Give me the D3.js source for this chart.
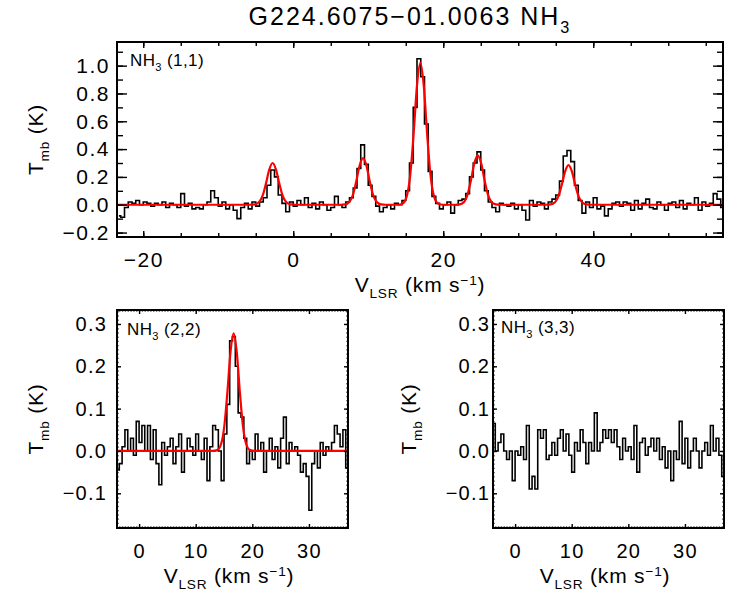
<!DOCTYPE html>
<html>
<head>
<meta charset="utf-8">
<script src="https://cdn.jsdelivr.net/npm/d3@7"></script>
<style>
  body { margin: 0; background: #fff; }
  svg { display: block; }
</style>
</head>
<body>
<svg id="chart"></svg>
<script>
const FONT = "'Liberation Sans', Arial, Helvetica, sans-serif";

// channel grid (km/s)
const CHAN_WIDTH = 0.5;
const V0_11 = -23.25;
const V0_22 = -3.75;
const V0_33 = -3.75;

// NH3 (1,1) spectrum, Tmb (K), one value per channel
const T11 = [
  -0.08, -0.09, -0.02, 0.02, 0.01, 0.03, 0.00, 0.02, 0.01, -0.01,
  0.01, 0.00, 0.02, -0.02, 0.01, 0.00, -0.02, 0.08, -0.01, 0.01,
  -0.03, -0.02, -0.03, 0.00, 0.02, 0.10, 0.05, -0.01, 0.02, -0.03,
  0.00, -0.04, -0.10, -0.02, 0.01, -0.03, 0.02, -0.01, 0.02, 0.05,
  0.14, 0.25, 0.20, 0.07, 0.01, -0.05, 0.02, -0.01, 0.03, 0.00,
  0.05, -0.02, 0.01, -0.03, 0.02, 0.00, -0.04, -0.02, 0.06, 0.00,
  -0.02, 0.02, 0.05, 0.12, 0.26, 0.43, 0.29, 0.14, 0.06, -0.01,
  -0.05, -0.02, 0.00, -0.03, 0.01, 0.00, 0.03, 0.10, 0.30, 0.70,
  1.05, 0.92, 0.58, 0.24, 0.06, 0.01, -0.03, 0.00, 0.02, -0.06,
  0.00, 0.03, 0.04, 0.08, 0.20, 0.30, 0.38, 0.25, 0.10, 0.02,
  -0.02, -0.05, 0.01, 0.00, -0.01, 0.01, -0.03, 0.00, -0.04, -0.11,
  0.03, -0.01, 0.02, 0.01, -0.03, 0.02, 0.04, 0.07, 0.17, 0.35,
  0.39, 0.31, 0.14, 0.03, -0.06, 0.02, -0.02, 0.05, -0.03, -0.01,
  -0.08, -0.03, 0.01, 0.02, -0.01, 0.02, 0.01, -0.04, 0.03, -0.03,
  0.01, 0.04, -0.02, -0.03, 0.02, 0.00, -0.04, 0.01, 0.02, -0.02,
  0.03, -0.03, 0.01, 0.00, 0.05, -0.04, 0.02, -0.01, 0.01, 0.08, 0.04, -0.02
];

// NH3 (2,2) spectrum
const T22 = [
  -0.045, -0.03, 0.01, 0.05, 0.00, 0.03, -0.01, 0.07, 0.02, 0.06,
  0.00, 0.06, -0.02, 0.05, -0.03, -0.08, 0.02, -0.01, 0.01, 0.03,
  -0.03, 0.01, 0.04, -0.05, 0.00, 0.03, 0.01, -0.01, 0.04, 0.00,
  -0.02, 0.03, -0.07, 0.01, 0.06, 0.05, 0.00, -0.07, 0.04, 0.11,
  0.26, 0.27, 0.20, 0.09, 0.08, 0.03, -0.03, 0.00, -0.02, 0.04,
  0.00, 0.02, -0.05, 0.00, 0.03, -0.02, 0.01, -0.04, 0.03, 0.08,
  -0.03, 0.02, 0.00, 0.01, -0.01, -0.05, -0.03, -0.06, -0.14, -0.03,
  0.00, -0.04, 0.02, -0.01, 0.01, 0.00, 0.02, 0.06, 0.04, 0.01,
  0.05, -0.04
];

// NH3 (3,3) spectrum
const T33 = [
  0.065, 0.00, 0.02, 0.04, 0.00, -0.02, 0.00, -0.07, 0.00, -0.01,
  0.01, -0.02, 0.06, -0.09, -0.06, -0.09, 0.05, 0.03, 0.05, -0.02,
  -0.01, 0.02, -0.01, 0.03, 0.05, 0.00, 0.04, -0.01, -0.05, 0.02,
  0.00, 0.05, 0.02, -0.03, 0.02, 0.00, 0.09, 0.00, 0.02, 0.05,
  0.03, 0.05, 0.02, 0.05, 0.01, -0.02, 0.03, 0.00, 0.01, -0.02,
  0.06, -0.05, 0.02, 0.03, -0.01, 0.01, 0.03, 0.00, 0.03, -0.02,
  0.01, -0.04, 0.00, -0.07, 0.00, -0.02, 0.07, -0.03, 0.03, -0.04,
  0.00, 0.03, 0.00, -0.04, 0.00, 0.02, -0.01, 0.06, 0.00, 0.03,
  -0.01, -0.06
];

// hyperfine fit (red)
const FIT11_V = [
  -23.5,
  -5.75, -5.15, -4.55, -4.1, -3.65, -3.2, -2.75, -2.3, -1.85, -1.4, -0.95, -0.35, 0.25,
  6.3, 6.9, 7.5, 7.95, 8.4, 8.85, 9.3, 9.75, 10.2, 10.65, 11.1, 11.7, 12.3,
  13.95, 14.55, 15.15, 15.6, 16.05, 16.5, 16.95, 17.4, 17.85, 18.3, 18.75, 19.35, 19.95,
  21.6, 22.2, 22.8, 23.25, 23.7, 24.15, 24.6, 25.05, 25.5, 25.95, 26.4, 27.0, 27.6,
  33.7, 34.3, 34.9, 35.35, 35.8, 36.25, 36.7, 37.15, 37.6, 38.05, 38.5, 39.1, 39.7,
  57.3
];
const FIT11_T = [
  0,
  0, 0.002, 0.019, 0.063, 0.15, 0.252, 0.30, 0.252, 0.15, 0.063, 0.019, 0.002, 0,
  0, 0.002, 0.021, 0.070, 0.168, 0.282, 0.335, 0.282, 0.168, 0.070, 0.021, 0.002, 0,
  0, 0.007, 0.064, 0.214, 0.51, 0.858, 1.02, 0.858, 0.51, 0.214, 0.064, 0.007, 0,
  0, 0.003, 0.022, 0.075, 0.178, 0.299, 0.355, 0.299, 0.178, 0.075, 0.022, 0.003, 0,
  0, 0.002, 0.018, 0.060, 0.143, 0.240, 0.285, 0.240, 0.143, 0.060, 0.018, 0.002, 0,
  0
];
const FIT22_V = [-3.9, 13.0, 13.8, 14.5, 15.05, 15.6, 16.15, 16.7, 17.25, 17.8, 18.35, 18.9, 19.6, 20.4, 36.9];
const FIT22_T = [0, 0, 0.002, 0.017, 0.058, 0.139, 0.234, 0.278, 0.234, 0.139, 0.058, 0.017, 0.002, 0, 0];

// tick values
const TOP_XTICKS = [-20, 0, 20, 40];
const TOP_YTICKS = [-0.2, 0.0, 0.2, 0.4, 0.6, 0.8, 1.0];
const LOW_XTICKS = [0, 10, 20, 30];
const LOW_YTICKS = [-0.1, 0.0, 0.1, 0.2, 0.3];

const svg = d3.select("#chart").attr("width", 750).attr("height", 600);

// text with sub/superscripts: parts = [[string, "base" | "sub" | "sup"], ...]
function richText(sel, parts, size) {
  let shift = 0;
  parts.forEach(([s, kind]) => {
    const target = kind === "sub" ? size * 0.3 : kind === "sup" ? -size * 0.33 : 0;
    sel.append("tspan")
      .attr("dy", target - shift)
      .attr("font-size", kind === "base" ? size : size * 0.65)
      .text(s);
    shift = target;
  });
  return sel;
}

function channels(v0, values) {
  return values.map((t, i) => [v0 + i * CHAN_WIDTH, t]);
}

let clipId = 0;
function drawPanel(c) {
  const x = d3.scaleLinear().domain(c.xDomain).range([c.left, c.right]);
  const y = d3.scaleLinear().domain(c.yDomain).range([c.bottom, c.top]);
  const g = svg.append("g");

  const id = "clip" + clipId++;
  svg.append("clipPath").attr("id", id)
    .append("rect")
    .attr("x", c.left).attr("y", c.top)
    .attr("width", c.right - c.left).attr("height", c.bottom - c.top);

  const plot = g.append("g").attr("clip-path", `url(#${id})`);

  const step = d3.line().curve(d3.curveStep).x(d => x(d[0])).y(d => y(d[1]));
  plot.append("path")
    .datum(channels(c.v0, c.spectrum))
    .attr("fill", "none")
    .attr("stroke", "#000")
    .attr("stroke-width", 1.6)
    .attr("d", step);

  if (c.fitV) {
    const smooth = d3.line().curve(d3.curveMonotoneX).x(d => x(d[0])).y(d => y(d[1]));
    plot.append("path")
      .datum(c.fitV.map((v, i) => [v, c.fitT[i]]))
      .attr("fill", "none")
      .attr("stroke", "#ff0000")
      .attr("stroke-width", 2.2)
      .attr("d", smooth);
  }

  const styleAxis = (sel) => {
    sel.select(".domain").remove();
    sel.selectAll("line").attr("stroke-width", 1.4);
    sel.attr("font-family", FONT).attr("font-size", c.tickFont);
    sel.selectAll("text").attr("letter-spacing", c.letterSpacing);
  };

  const xMinor = d3.range(c.xMinorStart, c.xDomain[1], c.xMinorStep);
  const yMinor = d3.range(c.yMinorStart, c.yDomain[1], c.yMinorStep);

  // bottom / top
  g.append("g").attr("transform", `translate(0,${c.bottom})`)
    .call(d3.axisBottom(x).tickValues(xMinor).tickSizeInner(-c.minorLen).tickSizeOuter(0).tickFormat(""))
    .call(styleAxis);
  g.append("g").attr("transform", `translate(0,${c.top})`)
    .call(d3.axisTop(x).tickValues(xMinor).tickSizeInner(-c.minorLen).tickSizeOuter(0).tickFormat(""))
    .call(styleAxis);
  g.append("g").attr("transform", `translate(0,${c.bottom})`)
    .call(d3.axisBottom(x).tickValues(c.xTicks).tickSizeInner(-c.xMajorLen).tickSizeOuter(0)
      .tickPadding(c.xPad).tickFormat(d3.format("d")))
    .call(styleAxis);
  g.append("g").attr("transform", `translate(0,${c.top})`)
    .call(d3.axisTop(x).tickValues(c.xTicks).tickSizeInner(-c.xMajorLen).tickSizeOuter(0).tickFormat(""))
    .call(styleAxis);

  // left / right
  g.append("g").attr("transform", `translate(${c.left},0)`)
    .call(d3.axisLeft(y).tickValues(yMinor).tickSizeInner(-c.yMinorLen).tickSizeOuter(0).tickFormat(""))
    .call(styleAxis);
  g.append("g").attr("transform", `translate(${c.right},0)`)
    .call(d3.axisRight(y).tickValues(yMinor).tickSizeInner(-c.yMinorLen).tickSizeOuter(0).tickFormat(""))
    .call(styleAxis);
  g.append("g").attr("transform", `translate(${c.left},0)`)
    .call(d3.axisLeft(y).tickValues(c.yTicks).tickSizeInner(-c.yMajorLen).tickSizeOuter(0)
      .tickPadding(c.yPad).tickFormat(d3.format(".1f")))
    .call(styleAxis);
  g.append("g").attr("transform", `translate(${c.right},0)`)
    .call(d3.axisRight(y).tickValues(c.yTicks).tickSizeInner(-c.yMajorLen).tickSizeOuter(0).tickFormat(""))
    .call(styleAxis);

  // frame
  g.append("rect")
    .attr("x", c.left).attr("y", c.top)
    .attr("width", c.right - c.left).attr("height", c.bottom - c.top)
    .attr("fill", "none").attr("stroke", "#000").attr("stroke-width", 2);

  // line label
  richText(g.append("text")
    .attr("x", c.left + c.labelDx).attr("y", c.top + c.labelDy)
    .attr("font-family", FONT).attr("letter-spacing", 0.4), [["NH", "base"], ["3", "sub"], [" " + c.label, "base"]], 17);

  // axis titles
  richText(g.append("text")
    .attr("x", c.xTitleX).attr("y", c.bottom + c.xTitleDy)
    .attr("text-anchor", "middle").attr("font-family", FONT).attr("letter-spacing", 0.8),
    [["V", "base"], ["LSR", "sub"], [" (km s", "base"], ["\u22121", "sup"], [")", "base"]], 21);

  richText(g.append("text")
    .attr("transform", `translate(${c.yTitleX},${(c.top + c.bottom) / 2}) rotate(-90)`)
    .attr("text-anchor", "middle").attr("font-family", FONT).attr("letter-spacing", 0.8),
    [["T", "base"], ["mb", "sub"], [" (K)", "base"]], 21);
}

drawPanel({
  tickFont: 21, letterSpacing: 1.5,
  left: 117, right: 723, top: 42, bottom: 237,
  xDomain: [-23.5, 57.3], yDomain: [-0.232, 1.17],
  v0: V0_11, spectrum: T11, fitV: FIT11_V, fitT: FIT11_T,
  xTicks: TOP_XTICKS, yTicks: TOP_YTICKS,
  xMinorStart: -20, xMinorStep: 5, yMinorStart: -0.2, yMinorStep: 0.1,
  xMajorLen: 6, minorLen: 4, yMajorLen: 10, yMinorLen: 6,
  xPad: 15, yPad: 7,
  label: "(1,1)", labelDx: 13, labelDy: 24,
  xTitleX: 420, xTitleDy: 55, yTitleX: 43
});

drawPanel({
  tickFont: 20, letterSpacing: 1.2,
  left: 117, right: 348, top: 310, bottom: 528,
  xDomain: [-3.9, 36.9], yDomain: [-0.182, 0.333],
  v0: V0_22, spectrum: T22, fitV: FIT22_V, fitT: FIT22_T,
  xTicks: LOW_XTICKS, yTicks: LOW_YTICKS,
  xMinorStart: -3.5, xMinorStep: 0.5, yMinorStart: -0.18, yMinorStep: 0.01,
  xMajorLen: 4, minorLen: 1.5, yMajorLen: 4, yMinorLen: 1.5,
  xPad: 16, yPad: 10,
  label: "(2,2)", labelDx: 10, labelDy: 25,
  xTitleX: 229, xTitleDy: 55, yTitleX: 43
});

drawPanel({
  tickFont: 20, letterSpacing: 1.2,
  left: 493, right: 724, top: 310, bottom: 528,
  xDomain: [-3.9, 36.9], yDomain: [-0.182, 0.333],
  v0: V0_33, spectrum: T33,
  xTicks: LOW_XTICKS, yTicks: LOW_YTICKS,
  xMinorStart: -3.5, xMinorStep: 0.5, yMinorStart: -0.18, yMinorStep: 0.01,
  xMajorLen: 4, minorLen: 1.5, yMajorLen: 4, yMinorLen: 1.5,
  xPad: 16, yPad: 3,
  label: "(3,3)", labelDx: 8, labelDy: 23,
  xTitleX: 605, xTitleDy: 55, yTitleX: 416
});

// title
richText(svg.append("text")
  .attr("x", 410).attr("y", 25)
  .attr("text-anchor", "middle").attr("font-family", FONT).attr("letter-spacing", 2),
  [["G224.6075\u221201.0063 NH", "base"], ["3", "sub"]], 25);
</script>
</body>
</html>
